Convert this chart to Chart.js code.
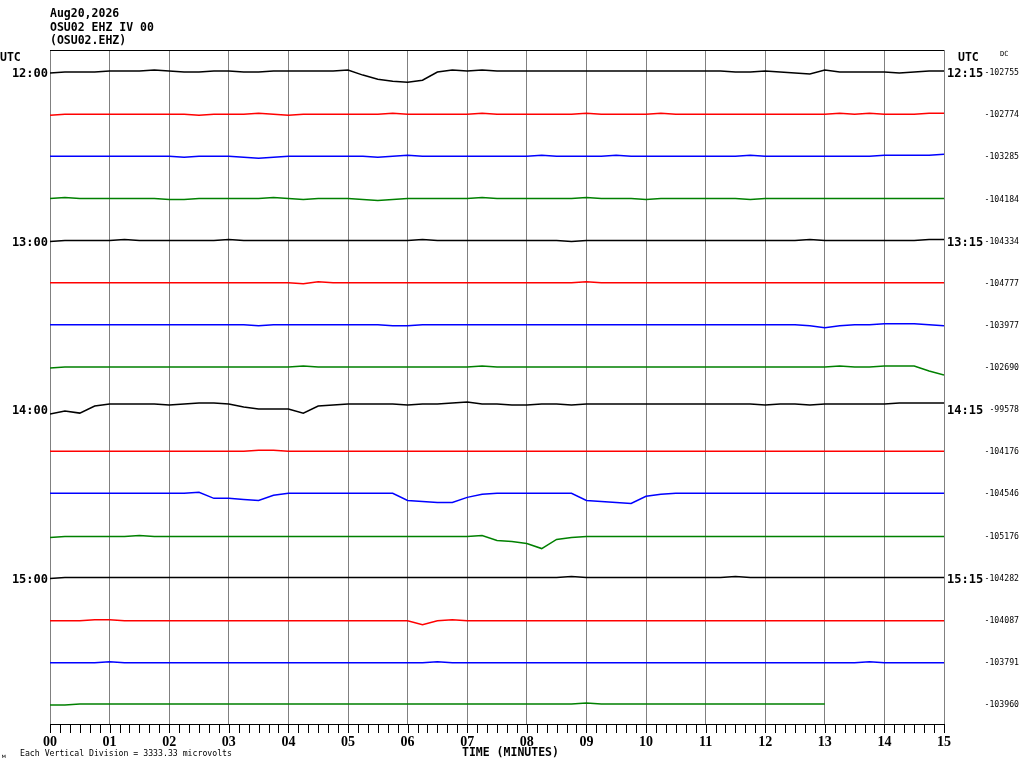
<!DOCTYPE html>
<html>
<head>
<meta charset="utf-8">
<title>OSU02 EHZ IV 00 helicorder</title>
<script src="https://cdn.jsdelivr.net/npm/chart.js@4.4.1/dist/chart.umd.min.js"></script>
<style>
  html, body { margin: 0; padding: 0; background: #fff; }
  #wrap { width: 1024px; height: 768px; position: relative; }
</style>
</head>
<body>
<div id="wrap"><canvas id="heli"></canvas></div>
<script>
// Helicorder OSU02 EHZ IV 00, Aug20,2026 12:00-16:00 UTC, 15 minutes per line

// sample times along each line (minutes)
const minutes = [0, 0.25, 0.5, 0.75, 1, 1.25, 1.5, 1.75, 2, 2.25, 2.5, 2.75, 3, 3.25, 3.5, 3.75,
  4, 4.25, 4.5, 4.75, 5, 5.25, 5.5, 5.75, 6, 6.25, 6.5, 6.75, 7, 7.25, 7.5, 7.75,
  8, 8.25, 8.5, 8.75, 9, 9.25, 9.5, 9.75, 10, 10.25, 10.5, 10.75, 11, 11.25, 11.5, 11.75,
  12, 12.25, 12.5, 12.75, 13, 13.25, 13.5, 13.75, 14, 14.25, 14.5, 14.75, 15];
const minuteLabels = ['00', '01', '02', '03', '04', '05', '06', '07', '08', '09', '10', '11', '12', '13', '14', '15'];
const hourLabels = ['12:00', '13:00', '14:00', '15:00'];
const quarterLabels = ['12:15', '13:15', '14:15', '15:15'];
const dcOffsets = ['-102755', '-102774', '-103285', '-104184', '-104334', '-104777', '-103977', '-102690',
  '-99578', '-104176', '-104546', '-105176', '-104282', '-104087', '-103791', '-103960'];
const lineColors = ['#000000', '#ff0000', '#0000ff', '#008000'];
const uvPerDivision = 3333.33;

// deviation of each line from its DC level, microvolts (positive = up)
const trace1200 = [-80, 0, 0, 0, 80, 80, 80, 160, 80, 0, 0, 80, 80, 0, 0, 80, 80, 80, 80, 80,
  160, -240, -560, -720, -800, -640, 0, 160, 80, 160, 80, 80, 80, 80, 80, 80, 80, 80, 80, 80,
  80, 80, 80, 80, 80, 80, 0, 0, 80, 0, -80, -160, 160, 0, 0, 0, 0, -80, 0, 80, 80];
const trace1215 = [-80, 0, 0, 0, 0, 0, 0, 0, 0, 0, -80, 0, 0, 0, 80, 0, -80, 0, 0, 0,
  0, 0, 0, 80, 0, 0, 0, 0, 0, 80, 0, 0, 0, 0, 0, 0, 80, 0, 0, 0,
  0, 80, 0, 0, 0, 0, 0, 0, 0, 0, 0, 0, 0, 80, 0, 80, 0, 0, 0, 80, 80];
const trace1230 = [0, 0, 0, 0, 0, 0, 0, 0, 0, -80, 0, 0, 0, -80, -160, -80, 0, 0, 0, 0,
  0, 0, -80, 0, 80, 0, 0, 0, 0, 0, 0, 0, 0, 80, 0, 0, 0, 0, 80, 0,
  0, 0, 0, 0, 0, 0, 0, 80, 0, 0, 0, 0, 0, 0, 0, 0, 80, 80, 80, 80, 160];
const trace1245 = [0, 80, 0, 0, 0, 0, 0, 0, -80, -80, 0, 0, 0, 0, 0, 80, 0, -80, 0, 0,
  0, -80, -160, -80, 0, 0, 0, 0, 0, 80, 0, 0, 0, 0, 0, 0, 80, 0, 0, 0,
  -80, 0, 0, 0, 0, 0, 0, -80, 0, 0, 0, 0, 0, 0, 0, 0, 0, 0, 0, 0, 0];
const trace1300 = [-80, 0, 0, 0, 0, 80, 0, 0, 0, 0, 0, 0, 80, 0, 0, 0, 0, 0, 0, 0,
  0, 0, 0, 0, 0, 80, 0, 0, 0, 0, 0, 0, 0, 0, 0, -80, 0, 0, 0, 0,
  0, 0, 0, 0, 0, 0, 0, 0, 0, 0, 0, 80, 0, 0, 0, 0, 0, 0, 0, 80, 80];
const trace1315 = [0, 0, 0, 0, 0, 0, 0, 0, 0, 0, 0, 0, 0, 0, 0, 0, 0, -80, 80, 0,
  0, 0, 0, 0, 0, 0, 0, 0, 0, 0, 0, 0, 0, 0, 0, 0, 80, 0, 0, 0,
  0, 0, 0, 0, 0, 0, 0, 0, 0, 0, 0, 0, 0, 0, 0, 0, 0, 0, 0, 0, 0];
const trace1330 = [0, 0, 0, 0, 0, 0, 0, 0, 0, 0, 0, 0, 0, 0, -80, 0, 0, 0, 0, 0,
  0, 0, 0, -80, -80, 0, 0, 0, 0, 0, 0, 0, 0, 0, 0, 0, 0, 0, 0, 0,
  0, 0, 0, 0, 0, 0, 0, 0, 0, 0, 0, -80, -240, -80, 0, 0, 80, 80, 80, 0, -80];
const trace1345 = [-80, 0, 0, 0, 0, 0, 0, 0, 0, 0, 0, 0, 0, 0, 0, 0, 0, 80, 0, 0,
  0, 0, 0, 0, 0, 0, 0, 0, 0, 80, 0, 0, 0, 0, 0, 0, 0, 0, 0, 0,
  0, 0, 0, 0, 0, 0, 0, 0, 0, 0, 0, 0, 0, 80, 0, 0, 80, 80, 80, -320, -640];
const trace1400 = [-400, -160, -320, 240, 400, 400, 400, 400, 320, 400, 480, 480, 400, 160, 0, 0, 0, -320, 240, 320,
  400, 400, 400, 400, 320, 400, 400, 480, 560, 400, 400, 320, 320, 400, 400, 320, 400, 400, 400, 400,
  400, 400, 400, 400, 400, 400, 400, 400, 320, 400, 400, 320, 400, 400, 400, 400, 400, 480, 480, 480, 480];
const trace1415 = [0, 0, 0, 0, 0, 0, 0, 0, 0, 0, 0, 0, 0, 0, 80, 80, 0, 0, 0, 0,
  0, 0, 0, 0, 0, 0, 0, 0, 0, 0, 0, 0, 0, 0, 0, 0, 0, 0, 0, 0,
  0, 0, 0, 0, 0, 0, 0, 0, 0, 0, 0, 0, 0, 0, 0, 0, 0, 0, 0, 0, 0];
const trace1430 = [0, 0, 0, 0, 0, 0, 0, 0, 0, 0, 80, -400, -400, -480, -560, -160, 0, 0, 0, 0,
  0, 0, 0, 0, -560, -640, -720, -720, -320, -80, 0, 0, 0, 0, 0, 0, -560, -640, -720, -800,
  -240, -80, 0, 0, 0, 0, 0, 0, 0, 0, 0, 0, 0, 0, 0, 0, 0, 0, 0, 0, 0];
const trace1445 = [-160, -80, -80, -80, -80, -80, 0, -80, -80, -80, -80, -80, -80, -80, -80, -80, -80, -80, -80, -80,
  -80, -80, -80, -80, -80, -80, -80, -80, -80, 0, -400, -480, -640, -1040, -320, -160, -80, -80, -80, -80,
  -80, -80, -80, -80, -80, -80, -80, -80, -80, -80, -80, -80, -80, -80, -80, -80, -80, -80, -80, -80, -80];
const trace1500 = [-80, 0, 0, 0, 0, 0, 0, 0, 0, 0, 0, 0, 0, 0, 0, 0, 0, 0, 0, 0,
  0, 0, 0, 0, 0, 0, 0, 0, 0, 0, 0, 0, 0, 0, 0, 80, 0, 0, 0, 0,
  0, 0, 0, 0, 0, 0, 80, 0, 0, 0, 0, 0, 0, 0, 0, 0, 0, 0, 0, 0, 0];
const trace1515 = [-80, -80, -80, 0, 0, -80, -80, -80, -80, -80, -80, -80, -80, -80, -80, -80, -80, -80, -80, -80,
  -80, -80, -80, -80, -80, -400, -80, 0, -80, -80, -80, -80, -80, -80, -80, -80, -80, -80, -80, -80,
  -80, -80, -80, -80, -80, -80, -80, -80, -80, -80, -80, -80, -80, -80, -80, -80, -80, -80, -80, -80, -80];
const trace1530 = [-80, -80, -80, -80, 0, -80, -80, -80, -80, -80, -80, -80, -80, -80, -80, -80, -80, -80, -80, -80,
  -80, -80, -80, -80, -80, -80, 0, -80, -80, -80, -80, -80, -80, -80, -80, -80, -80, -80, -80, -80,
  -80, -80, -80, -80, -80, -80, -80, -80, -80, -80, -80, -80, -80, -80, -80, 0, -80, -80, -80, -80, -80];
// last line stops at minute 13
const trace1545 = [-80, -80, 0, 0, 0, 0, 0, 0, 0, 0, 0, 0, 0, 0, 0, 0, 0, 0, 0, 0,
  0, 0, 0, 0, 0, 0, 0, 0, 0, 0, 0, 0, 0, 0, 0, 0, 80, 0, 0, 0,
  0, 0, 0, 0, 0, 0, 0, 0, 0, 0, 0, 0, 0];

const traces = [trace1200, trace1215, trace1230, trace1245, trace1300, trace1315, trace1330, trace1345,
  trace1400, trace1415, trace1430, trace1445, trace1500, trace1515, trace1530, trace1545];

// each line sits one vertical division below the previous one
const datasets = traces.map((tr, i) => ({
  label: dcOffsets[i],
  data: tr.map((v, k) => ({ x: minutes[k], y: -i + v / uvPerDivision })),
  borderColor: lineColors[i % 4],
  borderWidth: 1.5,
  pointRadius: 0,
  tension: 0,
  fill: false
}));

const mono = '"DejaVu Sans Mono", monospace';

const heliDecor = {
  id: 'heliDecor',
  afterDraw(chart) {
    const { ctx, chartArea: { left, right, top, bottom }, scales: { x, y } } = chart;
    ctx.save();

    // top frame line
    ctx.strokeStyle = '#000';
    ctx.lineWidth = 1;
    ctx.beginPath();
    ctx.moveTo(left, top + 0.5);
    ctx.lineTo(right, top + 0.5);
    ctx.stroke();

    // ticks every 10 seconds under the time axis
    ctx.beginPath();
    for (let s = 0; s <= 90; s++) {
      const px = Math.round(x.getPixelForValue(s / 6)) + 0.5;
      ctx.moveTo(px, bottom);
      ctx.lineTo(px, bottom + 9);
    }
    ctx.stroke();

    ctx.fillStyle = '#000';
    ctx.textBaseline = 'alphabetic';

    // header
    ctx.font = 'bold 11.5px ' + mono;
    ctx.textAlign = 'left';
    ctx.fillText('Aug20,2026', 50, 17);
    ctx.fillText('OSU02 EHZ IV 00', 50, 31);
    ctx.fillText('(OSU02.EHZ)', 50, 44);
    ctx.fillText('UTC', 0, 61);
    ctx.fillText('UTC', 958, 61);
    ctx.font = '7px ' + mono;
    ctx.fillText('DC', 1000, 56);

    // hour labels on the left, quarter labels on the right
    ctx.font = 'bold 12px ' + mono;
    hourLabels.forEach((lab, k) => {
      const py = y.getPixelForValue(-k * 4);
      ctx.textAlign = 'right';
      ctx.fillText(lab, 48, py + 5);
      ctx.textAlign = 'left';
      ctx.fillText(quarterLabels[k], 947, py + 5);
    });

    // DC level of each line
    ctx.font = '8.2px ' + mono;
    ctx.textAlign = 'right';
    ctx.textBaseline = 'middle';
    dcOffsets.forEach((lab, i) => {
      ctx.fillText(lab, 1019, y.getPixelForValue(-i) + 1);
    });

    // footer
    ctx.textBaseline = 'alphabetic';
    ctx.textAlign = 'left';
    ctx.font = 'bold 11.5px ' + mono;
    ctx.fillText('TIME (MINUTES)', 462, 756);
    ctx.font = '8.2px ' + mono;
    ctx.fillText('Each Vertical Division = 3333.33 microvolts', 20, 756);
    ctx.font = '6px ' + mono;
    ctx.fillText('м', 2, 758);

    ctx.restore();
  }
};

new Chart(document.getElementById('heli'), {
  type: 'line',
  data: { datasets },
  options: {
    responsive: true,
    maintainAspectRatio: false,
    animation: false,
    normalized: true,
    layout: { padding: { left: 50, right: 80, top: 50, bottom: 0 } },
    plugins: {
      legend: { display: false },
      tooltip: { enabled: false }
    },
    scales: {
      x: {
        type: 'linear',
        min: 0,
        max: 15,
        afterFit(scale) { scale.height = 44; },
        grid: { color: '#808080', lineWidth: 1, drawTicks: false },
        border: { display: true, color: '#000000', width: 1 },
        ticks: {
          stepSize: 1,
          autoSkip: false,
          maxRotation: 0,
          padding: 11,
          color: '#000000',
          font: { family: '"Liberation Serif", serif', size: 14, weight: 'bold', lineHeight: 1 },
          callback: (v, i) => minuteLabels[i]
        }
      },
      y: {
        display: false,
        min: -15 - 20 / 42,
        max: 22 / 42
      }
    }
  },
  plugins: [heliDecor]
});
</script>
</body>
</html>
